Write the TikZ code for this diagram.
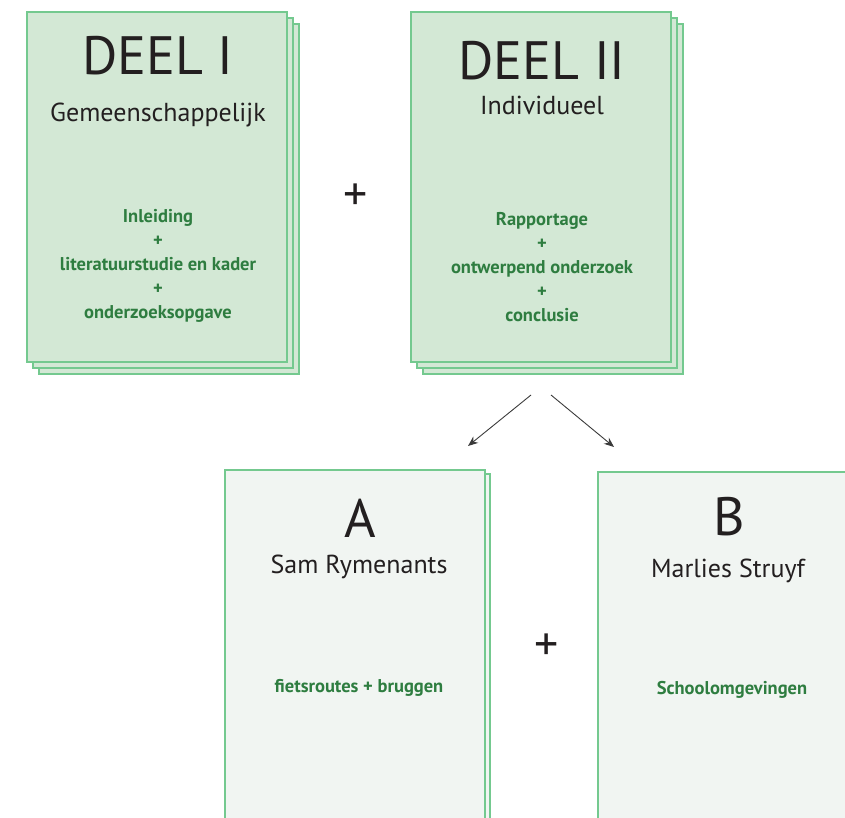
\documentclass[tikz,border=0pt]{standalone}
\usepackage{fontspec}
\setmainfont{PT Sans}
\usetikzlibrary{arrows.meta}

\definecolor{sheetline}{HTML}{74C98F}
\definecolor{sheetfill}{HTML}{D3E8D5}
\definecolor{paperfill}{HTML}{F1F5F2}
\definecolor{notegreen}{HTML}{2E7D40}
\definecolor{ink}{HTML}{231F20}
\definecolor{arrowgray}{HTML}{3A3A3A}

\begin{document}
\begin{tikzpicture}[x=1pt,y=-1pt,
  sheet/.style={draw=sheetline, line width=1.3pt, fill=sheetfill, inner sep=0pt,
                minimum width=260pt, minimum height=350pt},
  paper/.style={sheet, fill=paperfill},
  bigtitle/.style={anchor=base, inner sep=0pt, text=ink, font=\fontsize{54}{60}\selectfont},
  subtitle/.style={anchor=base, inner sep=0pt, text=ink, font=\fontsize{26}{30}\selectfont},
  notes/.style={inner sep=0pt, align=center, text=notegreen, font=\fontsize{18.5}{24}\selectfont\bfseries},
  plussign/.style={inner sep=0pt, text=ink, font=\fontsize{48}{50}\selectfont},
  flow/.style={draw=arrowgray, line width=0.9pt, -{Stealth[length=10pt,width=8pt]}}
]
\useasboundingbox (0,0) rectangle (845,818);
\clip (0,0) rectangle (845,818);

% DEEL I: stack of three sheets
\node[sheet] (d1c) at (169,199) {};
\node[sheet] (d1b) at (163,193) {};
\node[sheet] (d1)  at (157,187) {};
\node[bigtitle] (t1) at (158,75) {DEEL I};
\node[subtitle] (s1) at (158,122) {Gemeenschappelijk};
\node[notes] (n1) at (158,266) {Inleiding\\+\\literatuurstudie en kader\\+\\onderzoeksopgave};

% DEEL II: stack of three sheets
\node[sheet] (d2c) at (553,199) {};
\node[sheet] (d2b) at (547,193) {};
\node[sheet] (d2)  at (541,187) {};
\node[bigtitle] (t2) at (542,80) {DEEL II};
\node[subtitle] (s2) at (542,115) {Individueel};
\node[notes] (n2) at (542,267) {Rapportage\\+\\ontwerpend onderzoek\\+\\conclusie};

\node[plussign] (p1) at (356,197) {+};

% split of the individual part
\coordinate (fromL) at (531,395);
\coordinate (toA)   at (468,446);
\coordinate (fromR) at (551,395);
\coordinate (toB)   at (614,447);
\draw[flow] (fromL) -- (toA);
\draw[flow] (fromR) -- (toB);

% A: two sheets
\node[paper] (ab) at (360,649) {};
\node[paper] (a)  at (355,645) {};
\node[bigtitle] (ta) at (360,537) {A};
\node[subtitle] (sa) at (359,573) {Sam Rymenants};
\node[notes] (na) at (359,688) {fietsroutes + bruggen};

% B: single sheet
\node[paper] (b) at (728,647) {};
\node[bigtitle] (tb) at (729,535) {B};
\node[subtitle] (sb) at (728,577) {Marlies Struyf};
\node[notes] (nb) at (732,690) {Schoolomgevingen};

\node[plussign] (p2) at (547,647) {+};
\end{tikzpicture}
\end{document}
